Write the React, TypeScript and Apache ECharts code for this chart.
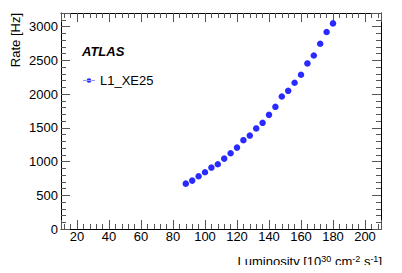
import React, { useEffect, useRef } from "react";
import * as echarts from "echarts";

const luminosity = [88, 92, 96, 100, 104, 108, 112, 116, 120, 124, 128, 132, 136, 140, 144, 148, 152, 156, 160, 164, 168, 172, 176, 180];
const rate = [672, 717, 782, 841, 910, 960, 1043, 1123, 1206, 1316, 1384, 1490, 1573, 1691, 1810, 1963, 2047, 2166, 2285, 2453, 2571, 2745, 2918, 3046];
const seriesName = "L1_XE25";
const xRange = [10, 210];
const yRange = [0, 3200];

const FONT = "Liberation Sans";

export default function App() {
  const ref = useRef<HTMLDivElement>(null);
  useEffect(() => {
    if (!ref.current) return;
    const chart = echarts.init(ref.current, null, { renderer: "svg" });
    const tickStyle = { color: "#555", width: 1 };
    const axisBase = {
      type: "value" as const,
      axisLine: { show: true, onZero: false, lineStyle: { color: "#000", width: 1 } },
      axisTick: { show: true, inside: true, length: 9, lineStyle: tickStyle },
      minorTick: { show: true, splitNumber: 5, length: 5, lineStyle: tickStyle },
      splitLine: { show: false },
    };
    const xLabel = {
      show: true,
      margin: 1,
      fontSize: 13,
      color: "#000",
      fontFamily: FONT,
      showMinLabel: false,
      showMaxLabel: false,
      formatter: (v: number) => (v % 20 === 0 ? String(v) : ""),
    };
    const yLabel = {
      show: true,
      margin: 3,
      fontSize: 13,
      color: "#000",
      fontFamily: FONT,
      showMaxLabel: false,
      formatter: (v: number) => (v % 500 === 0 ? String(v) : ""),
    };
    chart.setOption({
      animation: false,
      backgroundColor: "#fff",
      grid: { left: 61, right: 21, top: 13, bottom: 44, containLabel: false, outerBoundsMode: "none" },
      xAxis: [
        { ...axisBase, position: "bottom", min: xRange[0], max: xRange[1], splitNumber: 10, axisLabel: xLabel },
        { ...axisBase, position: "top", min: xRange[0], max: xRange[1], splitNumber: 10, axisLabel: { show: false } },
      ],
      yAxis: [
        { ...axisBase, position: "left", min: yRange[0], max: yRange[1], interval: 500, axisLabel: yLabel },
        { ...axisBase, position: "right", min: yRange[0], max: yRange[1], interval: 500, axisLabel: { show: false } },
      ],
      legend: {
        show: true,
        left: 83,
        top: 74,
        padding: 0,
        orient: "vertical",
        itemWidth: 12,
        itemHeight: 5,
        icon: "path://M0,2.6 L13,2.6 L13,3.4 L0,3.4 Z M4,3 A2.5,2.5 0 1,0 9,3 A2.5,2.5 0 1,0 4,3 Z",
        itemStyle: { opacity: 1 },
        textStyle: { fontSize: 13, color: "#000", fontFamily: FONT },
        data: [seriesName],
      },
      series: [
        {
          name: seriesName,
          type: "scatter",
          xAxisIndex: 0,
          yAxisIndex: 0,
          symbol: "circle",
          symbolSize: 6.5,
          itemStyle: { color: "#2a2aff", opacity: 1 },
          data: luminosity.map((x, i) => [x, rate[i]]),
        },
      ],
      graphic: [
        {
          type: "text",
          x: 82,
          y: 51,
          style: {
            text: "ATLAS",
            font: `italic bold 13px "${FONT}"`,
            fill: "#000",
            verticalAlign: "middle",
            align: "left",
          },
        },
        {
          type: "text",
          x: 15,
          y: 13,
          rotation: Math.PI / 2,
          style: {
            text: "Rate [Hz]",
            font: `13px "${FONT}"`,
            fill: "#000",
            align: "right",
            verticalAlign: "middle",
          },
        },
        {
          type: "text",
          x: 382,
          y: 261,
          style: {
            text: "Luminosity [10{s|30} cm{s|-2} s{s|-1}]",
            font: `13px "${FONT}"`,
            fill: "#000",
            align: "right",
            verticalAlign: "middle",
            rich: {
              s: { fontSize: 9, fontFamily: FONT, fill: "#000", verticalAlign: "top" },
            },
          },
        },
      ],
    });
    return () => chart.dispose();
  }, []);
  return <div ref={ref} style={{ width: 402, height: 273, margin: -8 }} />;
}
